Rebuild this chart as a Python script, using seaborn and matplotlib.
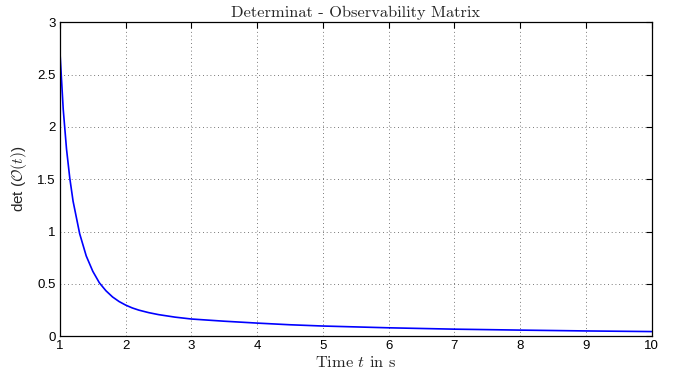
import numpy as np
import pandas as pd
import matplotlib
matplotlib.use("Agg")
import matplotlib.pyplot as plt
import seaborn as sns

# values
time_s = [1.0, 1.05, 1.10, 1.15, 1.20, 1.30, 1.40, 1.50, 1.60, 1.70, 1.80, 1.90,
          2.0, 2.1, 2.2, 2.35, 2.5, 2.75, 3.0, 3.5, 4.0, 4.5, 5.0,
          6.0, 7.0, 8.0, 9.0, 10.0]
det_obs = [2.72, 2.17, 1.79, 1.51, 1.29, 0.98, 0.767, 0.62, 0.51, 0.434, 0.375, 0.331,
           0.297, 0.27, 0.249, 0.225, 0.206, 0.182, 0.164, 0.143, 0.125, 0.109, 0.097,
           0.080, 0.067, 0.058, 0.050, 0.044]
x_ticks = list(range(1, 11))
y_ticks = [0, 0.5, 1, 1.5, 2, 2.5, 3]

df = pd.DataFrame({"t": time_s, "det": det_obs})

sns.set_theme(style="white")
plt.rcParams['font.family'] = ['Liberation Sans', 'DejaVu Sans']

fig = plt.figure(figsize=(6.81, 3.79), dpi=100)
ax = fig.add_axes([0.088, 0.113, 0.869, 0.828])
sns.lineplot(data=df, x="t", y="det", ax=ax, color=(0, 0, 1), linewidth=1.2, sort=False)

ax.set_xlim(1, 10)
ax.set_ylim(0, 3)
ax.set_xticks(x_ticks)
ax.set_yticks(y_ticks)
ax.set_yticklabels(["0", "0.5", "1", "1.5", "2", "2.5", "3"])
ax.grid(True, color="black", linestyle=(0, (1, 3.5)), linewidth=0.6, alpha=0.7)
ax.tick_params(direction="in", length=4, width=0.8, top=True, right=True,
               labelsize=9.5, colors="black", pad=3)
for s in ax.spines.values():
    s.set_color("black")
    s.set_linewidth(0.9)

ax.set_title("Determinat - Observability Matrix", fontsize=11.8,
             fontfamily="cmr10", pad=4)
ax.set_xlabel(r"Time $t$ in s", fontsize=11.8, fontfamily="cmr10",
              math_fontfamily="cm", labelpad=2)
ax.set_ylabel(r"det ($\mathcal{O}(t)$)", fontsize=11, math_fontfamily="cm", labelpad=6)

fig.savefig("out.png", dpi=100)
